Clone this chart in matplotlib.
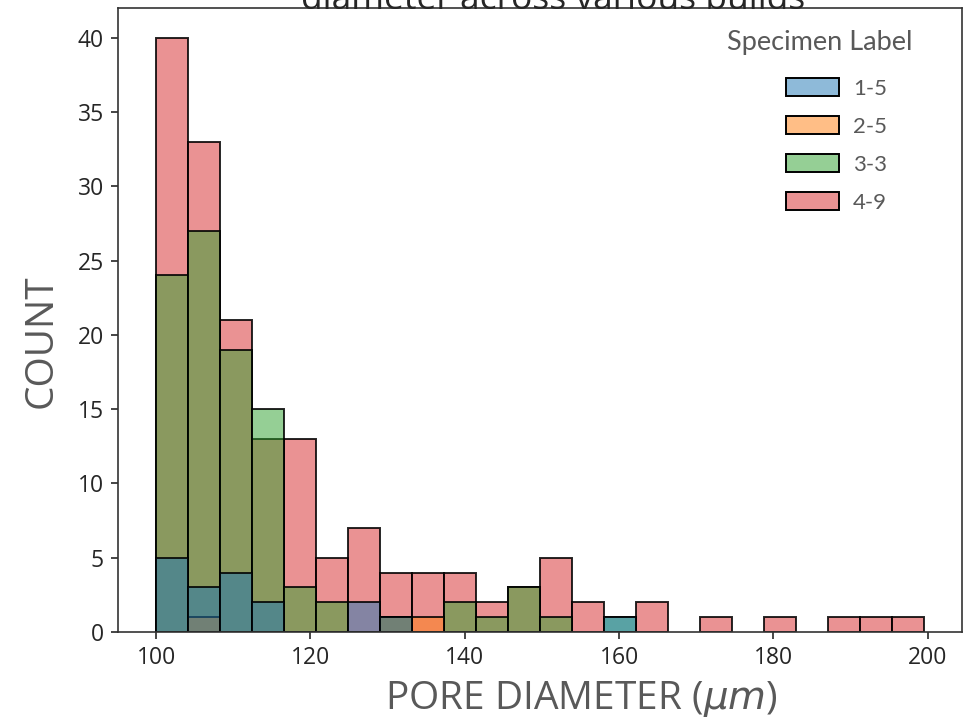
import numpy as np
import matplotlib
matplotlib.use("Agg")
import matplotlib.pyplot as plt
from matplotlib.colors import to_rgba
from matplotlib.patches import Patch
from matplotlib.offsetbox import HPacker, DrawingArea

# ---- data ----
bin_edges = np.linspace(100, 199.5, 25)
labels = ["1-5", "2-5", "3-3", "4-9"]
counts_1_5 = [5, 3, 4, 2, 0, 0, 2, 1, 0, 0, 0, 0, 0, 0, 1, 0, 0, 0, 0, 0, 0, 0, 0, 0]
counts_2_5 = [0, 1, 0, 0, 0, 0, 0, 1, 1, 0, 0, 0, 0, 0, 0, 0, 0, 0, 0, 0, 0, 0, 0, 0]
counts_3_3 = [24, 27, 19, 15, 3, 2, 0, 1, 0, 2, 1, 3, 1, 0, 1, 0, 0, 0, 0, 0, 0, 0, 0, 0]
counts_4_9 = [40, 33, 21, 13, 13, 5, 7, 4, 4, 4, 2, 3, 5, 2, 0, 2, 0, 1, 0, 1, 0, 1, 1, 1]
series = [counts_1_5, counts_2_5, counts_3_3, counts_4_9]
colors = ["#1f77b4", "#ff7f0e", "#2ca02c", "#d62728"]

plt.rcParams['font.family'] = ['Open Sans', 'DejaVu Sans']

fig = plt.figure(figsize=(9.73, 7.17), dpi=100)
ax = fig.add_axes([0.121, 0.1185, 0.868, 0.8705])

lefts = bin_edges[:-1]
widths = np.diff(bin_edges)
# seaborn "layer": last hue drawn first, first hue ends on top
for lab, cnt, col in reversed(list(zip(labels, series, colors))):
    cnt = np.asarray(cnt, dtype=float)
    m = cnt > 0
    ax.bar(lefts[m], cnt[m], width=widths[m], align='edge',
           facecolor=to_rgba(col, 0.5), edgecolor=(0, 0, 0, 0.85),
           linewidth=1.4)

ax.set_xlim(bin_edges[0] - 0.05 * (bin_edges[-1] - bin_edges[0]),
            bin_edges[-1] + 0.05 * (bin_edges[-1] - bin_edges[0]))
ax.set_ylim(0, 42)
ax.set_xticks([100, 120, 140, 160, 180, 200])
ax.set_yticks([0, 5, 10, 15, 20, 25, 30, 35, 40])
ax.tick_params(labelsize=16.5, colors='#262626', length=5, width=1.2, pad=5)
for s in ax.spines.values():
    s.set_color('#333333')
    s.set_linewidth(1.2)

ax.set_xlabel(r"PORE DIAMETER ($\mu m$)", fontsize=28, color='#595959')
ax.set_ylabel("COUNT", fontsize=28, color='#595959')
ax.xaxis.set_label_coords(0.549, -0.075)
ax.yaxis.set_label_coords(-0.068, 0.466)

handles = [Patch(facecolor=to_rgba(c, 0.5), edgecolor='black', linewidth=1.4) for c in colors]
leg = ax.legend(handles, labels, title="Specimen Label", loc='upper right',
                bbox_to_anchor=(0.951, 0.979), borderaxespad=0,
                frameon=False, title_fontsize=19.5, alignment='right',
                handlelength=2.35, handleheight=0.86, labelspacing=0.78,
                handletextpad=0.65,
                prop={'family': ['Lato', 'DejaVu Sans'], 'size': 16})
leg.get_title().set_color('#595959')
leg.get_title().set_family(['Lato', 'DejaVu Sans'])
for t in leg.get_texts():
    t.set_color('#595959')
try:
    leg._legend_box.sep = 17
    entries = HPacker(children=[leg._legend_handle_box, DrawingArea(18, 1)],
                      pad=0, sep=0, align='baseline')
    leg._legend_box._children[1] = entries
except Exception:
    pass

fig.text(0.568, 1 - 9 / 717, "diameter across various builds", ha='center',
         va='baseline', fontsize=25.5, color='#262626')

fig.savefig("out.png", dpi=100)
